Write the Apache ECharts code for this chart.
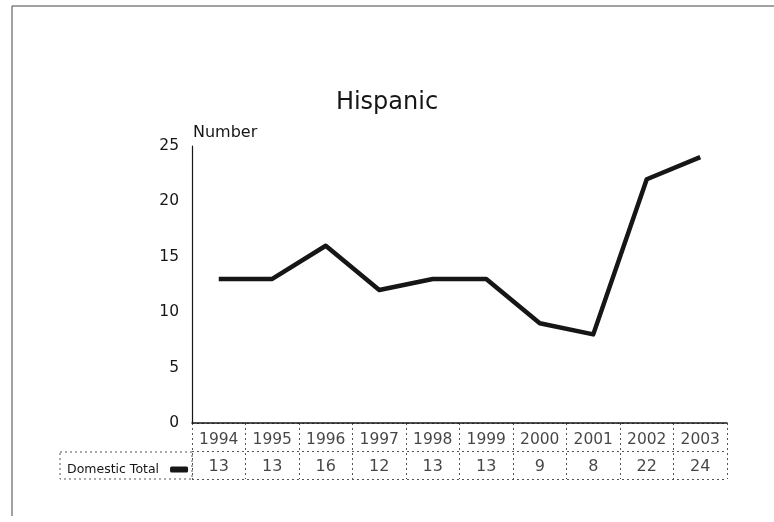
<!DOCTYPE html>
<html>
<head>
<meta charset="utf-8">
<script src="https://cdn.jsdelivr.net/npm/echarts@6/dist/echarts.min.js"></script>
<style>
  html, body { margin: 0; padding: 0; background: #fff; }
  #chart { width: 774px; height: 522px; }
</style>
</head>
<body>
<div id="chart"></div>
<script>
// data
const years = ['1994', '1995', '1996', '1997', '1998', '1999', '2000', '2001', '2002', '2003']
const domesticTotal = [13, 13, 16, 12, 13, 13, 9, 8, 22, 24]
const yTicks = [0, 5, 10, 15, 20, 25]

const font = '"DejaVu Sans", Lato, sans-serif'
const ink = '#161616'
const dash = { color: '#555', width: 1, type: [2, 3] }

// table cells: [column, row, text]
let yearCells = years.map((y, i) => [i, 0.5, y])
let valueCells = domesticTotal.map((v, i) => [i, 1.5, String(v)])

let myChart = echarts.init(document.getElementById('chart'))
myChart.setOption({
  animation: false,
  textStyle: { fontFamily: font },
  title: {
    text: 'Hispanic',
    left: 'center',
    top: 86,
    textStyle: { fontFamily: font, fontSize: 24, fontWeight: 'normal', color: ink }
  },
  legend: {
    data: ['Domestic Total'],
    left: 62,
    top: 458,
    align: 'right',
    icon: 'roundRect',
    itemWidth: 18,
    itemHeight: 6,
    textStyle: { fontSize: 12.5, color: ink, padding: [0, 6, 0, 0] }
  },
  grid: [
    { left: 192, right: 47, top: 146, bottom: 99 },
    { left: 192, right: 47, top: 423, height: 56 }
  ],
  xAxis: [{
    gridIndex: 0,
    type: 'category',
    data: years,
    boundaryGap: true,
    axisLine: { lineStyle: { color: ink, width: 1.5 } },
    axisTick: { show: false },
    axisLabel: { show: false }
  }, {
    gridIndex: 1,
    type: 'category',
    data: years,
    boundaryGap: true,
    axisLine: { show: false },
    axisTick: { show: false },
    axisLabel: { show: false },
    splitLine: { show: true, lineStyle: dash }
  }],
  yAxis: [{
    gridIndex: 0,
    type: 'value',
    min: yTicks[0],
    max: yTicks[yTicks.length - 1],
    interval: 5,
    name: 'Number',
    nameLocation: 'end',
    nameGap: 5,
    nameTextStyle: { fontSize: 16, color: ink, align: 'left', padding: [0, 0, 0, 1] },
    axisLine: { show: true, lineStyle: { color: ink, width: 1.2 } },
    axisTick: { show: false },
    splitLine: { show: false },
    axisLabel: { fontSize: 15.5, color: ink, margin: 13 }
  }, {
    gridIndex: 1,
    type: 'value',
    min: 0,
    max: 2,
    interval: 1,
    inverse: true,
    axisLine: { show: false },
    axisTick: { show: false },
    axisLabel: { show: false },
    splitLine: { show: true, lineStyle: dash }
  }],
  series: [{
    name: 'Domestic Total',
    type: 'line',
    xAxisIndex: 0,
    yAxisIndex: 0,
    data: domesticTotal,
    symbol: 'none',
    itemStyle: { color: ink },
    lineStyle: { color: ink, width: 4.5, join: 'round' }
  }, {
    type: 'scatter',
    xAxisIndex: 1,
    yAxisIndex: 1,
    data: yearCells,
    symbolSize: 0,
    silent: true,
    label: {
      show: true,
      position: 'inside',
      offset: [0, 3],
      formatter: p => p.data[2],
      fontSize: 15.5,
      color: ink
    }
  }, {
    type: 'scatter',
    xAxisIndex: 1,
    yAxisIndex: 1,
    data: valueCells,
    symbolSize: 0,
    silent: true,
    label: {
      show: true,
      position: 'inside',
      offset: [0, 2],
      formatter: p => p.data[2],
      fontSize: 16,
      color: ink
    }
  }],
  graphic: [
    // outer frame of the page
    { type: 'line', shape: { x1: 12, y1: 6, x2: 12, y2: 516 }, style: { stroke: '#444', lineWidth: 1 } },
    { type: 'line', shape: { x1: 12, y1: 6, x2: 774, y2: 6 }, style: { stroke: '#444', lineWidth: 1 } },
    // legend cell of the data table
    { type: 'rect', shape: { x: 60, y: 452, width: 132, height: 27 },
      style: { fill: 'none', stroke: '#555', lineWidth: 1, lineDash: [2, 3] } }
  ]
})
</script>
</body>
</html>
